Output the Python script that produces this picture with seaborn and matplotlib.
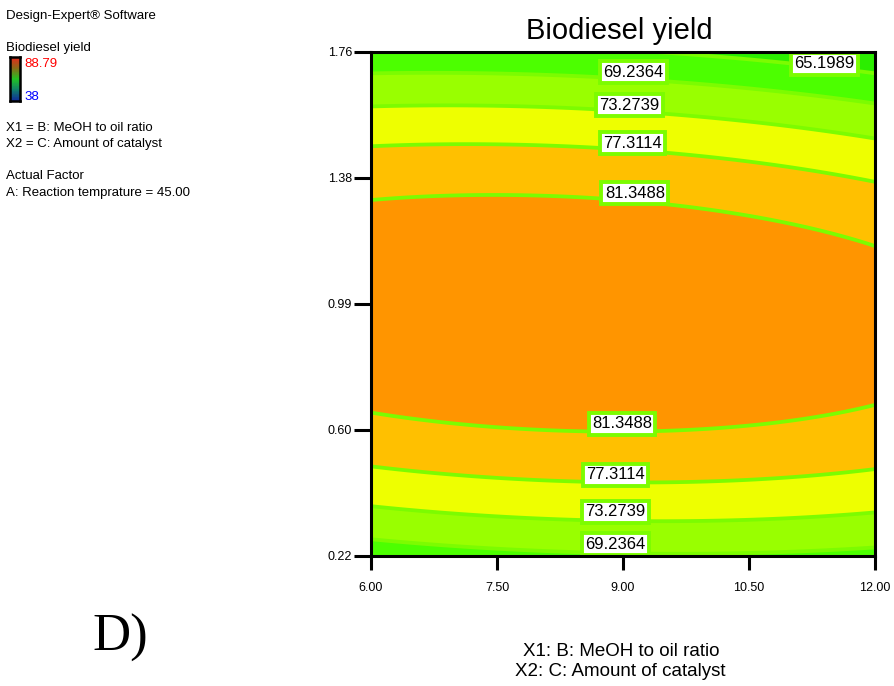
import numpy as np
import pandas as pd
import matplotlib
matplotlib.use("Agg")
import matplotlib.pyplot as plt
from matplotlib.colors import LinearSegmentedColormap
import seaborn as sns

# ---- response-surface model (coded factors, -1..+1) ----
# Y = b0 + b1*B + b2*C + b12*B*C + b11*B^2 + b22*C^2
model_terms = ["b0", "b1", "b2", "b12", "b11", "b22"]
model_coefs = [85.08, -0.77, -1.76, -1.36, -1.32, -17.9]

# factor ranges (actual units)
meoh_range = [6.0, 12.0]        # B: MeOH to oil ratio
catalyst_range = [0.22, 1.76]   # C: amount of catalyst

# contour levels shown on the plot
contour_levels = [65.1989, 69.2364, 73.2739, 77.3114, 81.3488]

# axis ticks
x_ticks = [6.0, 7.5, 9.0, 10.5, 12.0]
x_tick_labels = ["6.00", "7.50", "9.00", "10.50", "12.00"]
y_ticks = [0.22, 0.605, 0.99, 1.375, 1.76]
y_tick_labels = ["0.22", "0.60", "0.99", "1.38", "1.76"]

# design response range shown in the legend
yield_max = 88.79
yield_min = 38

# ---- styling ----
band_colors = ["#2BEE00", "#4CFF00", "#99FF00", "#EEFF00", "#FFC000", "#FF9500"]
line_color = "#7CFC00"
legend_cmap = LinearSegmentedColormap.from_list(
    "de", ["#102a9c", "#10806a", "#22c322", "#8a6a18", "#e8281c"])

# label anchors on the contour lines (level index, x, y)
label_spots = [
    (0, 11.40, 1.722),
    (1, 9.125, 1.697),
    (2, 9.08, 1.596),
    (3, 9.11, 1.480),
    (4, 9.14, 1.327),
    (4, 8.99, 0.622),
    (3, 8.91, 0.466),
    (2, 8.91, 0.353),
    (1, 8.91, 0.255),
]

sns.set_style("ticks")
plt.rcParams["font.family"] = ["Liberation Sans", "DejaVu Sans"]
plt.rcParams["text.color"] = "black"
plt.rcParams["xtick.color"] = "black"
plt.rcParams["ytick.color"] = "black"

W, H = 894, 686
fig = plt.figure(figsize=(W / 100, H / 100), dpi=100)


def fx(px):
    return px / W


def fy(py):
    return 1 - py / H


# ---- main contour axes ----
ax = fig.add_axes([fx(371), fy(555.5), (875 - 371) / W, (555.5 - 51.5) / H])

xb = np.linspace(*meoh_range, 401)
xc = np.linspace(*catalyst_range, 401)
XB, XC = np.meshgrid(xb, xc)
cb = (XB - np.mean(meoh_range)) / (np.diff(meoh_range)[0] / 2)
cc = (XC - np.mean(catalyst_range)) / (np.diff(catalyst_range)[0] / 2)
coef = dict(zip(model_terms, model_coefs))
Z = (coef["b0"] + coef["b1"] * cb + coef["b2"] * cc + coef["b12"] * cb * cc
     + coef["b11"] * cb ** 2 + coef["b22"] * cc ** 2)

bounds = [min(Z.min(), contour_levels[0]) - 1] + contour_levels + [Z.max() + 1]
ax.contourf(XB, XC, Z, levels=bounds, colors=band_colors, zorder=1)
ax.contour(XB, XC, Z, levels=contour_levels, colors=line_color,
           linewidths=2.7, zorder=2)

for idx, lx, ly in label_spots:
    ax.text(lx, ly, f"{contour_levels[idx]:.4f}", fontsize=12, color="black",
            ha="center", va="center", zorder=5,
            bbox=dict(boxstyle="square,pad=0.2", fc="white",
                      ec=line_color, lw=2.8))

ax.set_xlim(*meoh_range)
ax.set_ylim(*catalyst_range)
ax.set_xticks(x_ticks)
ax.set_xticklabels(x_tick_labels)
ax.set_yticks(y_ticks)
ax.set_yticklabels(y_tick_labels)
ax.tick_params(axis="both", direction="out", width=2.2, color="black",
               labelsize=9, labelcolor="black", bottom=True, left=True,
               top=False, right=False)
ax.tick_params(axis="x", length=10, pad=9)
ax.tick_params(axis="y", length=12, pad=1.5)
ax.set_xlabel("")
ax.set_ylabel("")
for s in ax.spines.values():
    s.set_visible(True)
    s.set_color("black")
    s.set_linewidth(2.2)
    s.set_zorder(6)

fig.text(fx(619), fy(31), "Biodiesel yield", fontsize=21, ha="center",
         va="center")
fig.text(fx(621), fy(652), "X1: B: MeOH to oil ratio", fontsize=13.5,
         ha="center", va="center")
fig.text(fx(620), fy(671), "X2: C: Amount of catalyst", fontsize=13.5,
         ha="center", va="center")
fig.text(fx(120), fy(638), "D)", fontsize=38, ha="center", va="center",
         family=["Liberation Serif", "DejaVu Serif"])

# ---- side legend ----
side = 9.5
fig.text(fx(6), fy(16), "Design-Expert\u00ae Software", fontsize=side,
         va="center")
fig.text(fx(6), fy(48), "Biodiesel yield", fontsize=side, va="center")
fig.text(fx(24), fy(64), f"{yield_max:.2f}", fontsize=side, va="center",
         color="#FF0000")
fig.text(fx(24), fy(97), f"{yield_min}", fontsize=side, va="center",
         color="#0000FF")
fig.text(fx(6), fy(128), "X1 = B: MeOH to oil ratio", fontsize=side,
         va="center")
fig.text(fx(6), fy(144), "X2 = C: Amount of catalyst", fontsize=side,
         va="center")
fig.text(fx(6), fy(176), "Actual Factor", fontsize=side, va="center")
fig.text(fx(6), fy(193), "A: Reaction temprature = 45.00", fontsize=side,
         va="center")

cax = fig.add_axes([fx(10), fy(101), 10 / W, 44 / H])
grad = pd.DataFrame(np.linspace(yield_max, yield_min, 60)[:, None])
sns.heatmap(grad, ax=cax, cmap=legend_cmap, vmin=yield_min, vmax=yield_max,
            cbar=False, xticklabels=False, yticklabels=False)
cax.tick_params(left=False, bottom=False)
for s in cax.spines.values():
    s.set_visible(True)
    s.set_color("black")
    s.set_linewidth(1.8)

fig.savefig("out.png", dpi=100)
